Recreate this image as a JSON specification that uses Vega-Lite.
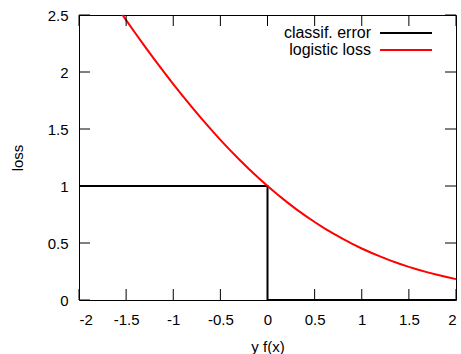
{
  "$schema": "https://vega.github.io/schema/vega-lite/v6.json",
  "width": 377,
  "height": 285,
  "autosize": {"type": "none"},
  "padding": {"left": 79, "top": 15, "right": 5, "bottom": 54},
  "background": "#ffffff",
  "config": {
    "font": "Liberation Sans",
    "view": {"stroke": "#000000", "strokeWidth": 1},
    "axis": {
      "domain": false,
      "grid": false,
      "ticks": true,
      "tickOpacity": 0,
      "tickSize": 11,
      "offset": -11,
      "labelFont": "Liberation Sans",
      "labelFontSize": 15,
      "labelColor": "#000000",
      "titleFont": "Liberation Sans",
      "titleFontSize": 15,
      "titleFontWeight": "normal",
      "titleColor": "#000000"
    },
    "legend": {
      "labelFont": "Liberation Sans",
      "labelFontSize": 16,
      "labelColor": "#000000"
    },
    "rule": {"color": "#000000", "strokeWidth": 1, "opacity": 1}
  },
  "datasets": {
    "curves": [
      {"series": "classif. error", "i": 0, "t": -2, "loss": 1},
      {"series": "classif. error", "i": 1, "t": 0, "loss": 1},
      {"series": "classif. error", "i": 2, "t": 0, "loss": 0},
      {"series": "classif. error", "i": 3, "t": 2, "loss": 0},
      {"series": "logistic loss", "i": 0, "t": -1.538, "loss": 2.5},
      {"series": "logistic loss", "i": 1, "t": -1.5, "loss": 2.4547},
      {"series": "logistic loss", "i": 2, "t": -1.4, "loss": 2.3379},
      {"series": "logistic loss", "i": 3, "t": -1.3, "loss": 2.2232},
      {"series": "logistic loss", "i": 4, "t": -1.2, "loss": 2.1111},
      {"series": "logistic loss", "i": 5, "t": -1.1, "loss": 2.0015},
      {"series": "logistic loss", "i": 6, "t": -1.0, "loss": 1.8946},
      {"series": "logistic loss", "i": 7, "t": -0.9, "loss": 1.7906},
      {"series": "logistic loss", "i": 8, "t": -0.8, "loss": 1.6896},
      {"series": "logistic loss", "i": 9, "t": -0.7, "loss": 1.5916},
      {"series": "logistic loss", "i": 10, "t": -0.6, "loss": 1.4968},
      {"series": "logistic loss", "i": 11, "t": -0.5, "loss": 1.4053},
      {"series": "logistic loss", "i": 12, "t": -0.4, "loss": 1.3172},
      {"series": "logistic loss", "i": 13, "t": -0.3, "loss": 1.2326},
      {"series": "logistic loss", "i": 14, "t": -0.2, "loss": 1.1514},
      {"series": "logistic loss", "i": 15, "t": -0.1, "loss": 1.0740},
      {"series": "logistic loss", "i": 16, "t": 0.0, "loss": 1.0},
      {"series": "logistic loss", "i": 17, "t": 0.1, "loss": 0.9297},
      {"series": "logistic loss", "i": 18, "t": 0.2, "loss": 0.8629},
      {"series": "logistic loss", "i": 19, "t": 0.3, "loss": 0.7998},
      {"series": "logistic loss", "i": 20, "t": 0.4, "loss": 0.7401},
      {"series": "logistic loss", "i": 21, "t": 0.5, "loss": 0.6840},
      {"series": "logistic loss", "i": 22, "t": 0.6, "loss": 0.6312},
      {"series": "logistic loss", "i": 23, "t": 0.7, "loss": 0.5817},
      {"series": "logistic loss", "i": 24, "t": 0.8, "loss": 0.5354},
      {"series": "logistic loss", "i": 25, "t": 0.9, "loss": 0.4923},
      {"series": "logistic loss", "i": 26, "t": 1.0, "loss": 0.4520},
      {"series": "logistic loss", "i": 27, "t": 1.1, "loss": 0.4145},
      {"series": "logistic loss", "i": 28, "t": 1.2, "loss": 0.3799},
      {"series": "logistic loss", "i": 29, "t": 1.3, "loss": 0.3477},
      {"series": "logistic loss", "i": 30, "t": 1.4, "loss": 0.3180},
      {"series": "logistic loss", "i": 31, "t": 1.5, "loss": 0.2905},
      {"series": "logistic loss", "i": 32, "t": 1.6, "loss": 0.2653},
      {"series": "logistic loss", "i": 33, "t": 1.7, "loss": 0.2421},
      {"series": "logistic loss", "i": 34, "t": 1.8, "loss": 0.2207},
      {"series": "logistic loss", "i": 35, "t": 1.9, "loss": 0.2011},
      {"series": "logistic loss", "i": 36, "t": 2.0, "loss": 0.1831}
    ],
    "xticks": [
      {"v": -2}, {"v": -1.5}, {"v": -1}, {"v": -0.5}, {"v": 0},
      {"v": 0.5}, {"v": 1}, {"v": 1.5}, {"v": 2}
    ],
    "yticks": [
      {"v": 0}, {"v": 0.5}, {"v": 1}, {"v": 1.5}, {"v": 2}, {"v": 2.5}
    ]
  },
  "layer": [
    {
      "data": {"name": "curves"},
      "mark": {"type": "line", "strokeWidth": 2, "interpolate": "linear"},
      "encoding": {
        "x": {
          "field": "t",
          "type": "quantitative",
          "scale": {"domain": [-2, 2], "nice": false, "zero": false},
          "axis": {
            "orient": "bottom",
            "values": [-2, -1.5, -1, -0.5, 0, 0.5, 1, 1.5, 2],
            "labelExpr": "replace(format(datum.value, '~g'), '\u2212', '-')",
            "labelPadding": 12,
            "title": "y f(x)",
            "titlePadding": 12
          }
        },
        "y": {
          "field": "loss",
          "type": "quantitative",
          "scale": {"domain": [0, 2.5], "nice": false},
          "axis": {
            "orient": "left",
            "values": [0, 0.5, 1, 1.5, 2, 2.5],
            "format": "~g",
            "labelPadding": 11,
            "title": "loss",
            "titlePadding": 22
          }
        },
        "color": {
          "field": "series",
          "type": "nominal",
          "scale": {"domain": ["classif. error", "logistic loss"], "range": ["#000000", "#ff0000"]},
          "legend": {
            "title": null,
            "orient": "none",
            "legendX": 319,
            "legendY": 10,
            "symbolType": "M-6.5,0H6.5",
            "symbolSize": 64,
            "symbolStrokeWidth": 2,
            "labelAlign": "right",
            "labelOffset": -43,
            "rowPadding": 1
          }
        },
        "order": {"field": "i", "type": "quantitative"}
      }
    },
    {
      "data": {"name": "xticks"},
      "mark": {"type": "rule", "y2Offset": -11},
      "encoding": {
        "x": {"field": "v", "type": "quantitative"},
        "y": {"datum": 0, "type": "quantitative"},
        "y2": {"datum": 0}
      }
    },
    {
      "data": {"name": "xticks"},
      "mark": {"type": "rule", "y2Offset": 11},
      "encoding": {
        "x": {"field": "v", "type": "quantitative"},
        "y": {"datum": 2.5, "type": "quantitative"},
        "y2": {"datum": 2.5}
      }
    },
    {
      "data": {"name": "yticks"},
      "mark": {"type": "rule", "x2Offset": 11},
      "encoding": {
        "y": {"field": "v", "type": "quantitative"},
        "x": {"datum": -2, "type": "quantitative"},
        "x2": {"datum": -2}
      }
    },
    {
      "data": {"name": "yticks"},
      "mark": {"type": "rule", "x2Offset": -11},
      "encoding": {
        "y": {"field": "v", "type": "quantitative"},
        "x": {"datum": 2, "type": "quantitative"},
        "x2": {"datum": 2}
      }
    }
  ]
}
